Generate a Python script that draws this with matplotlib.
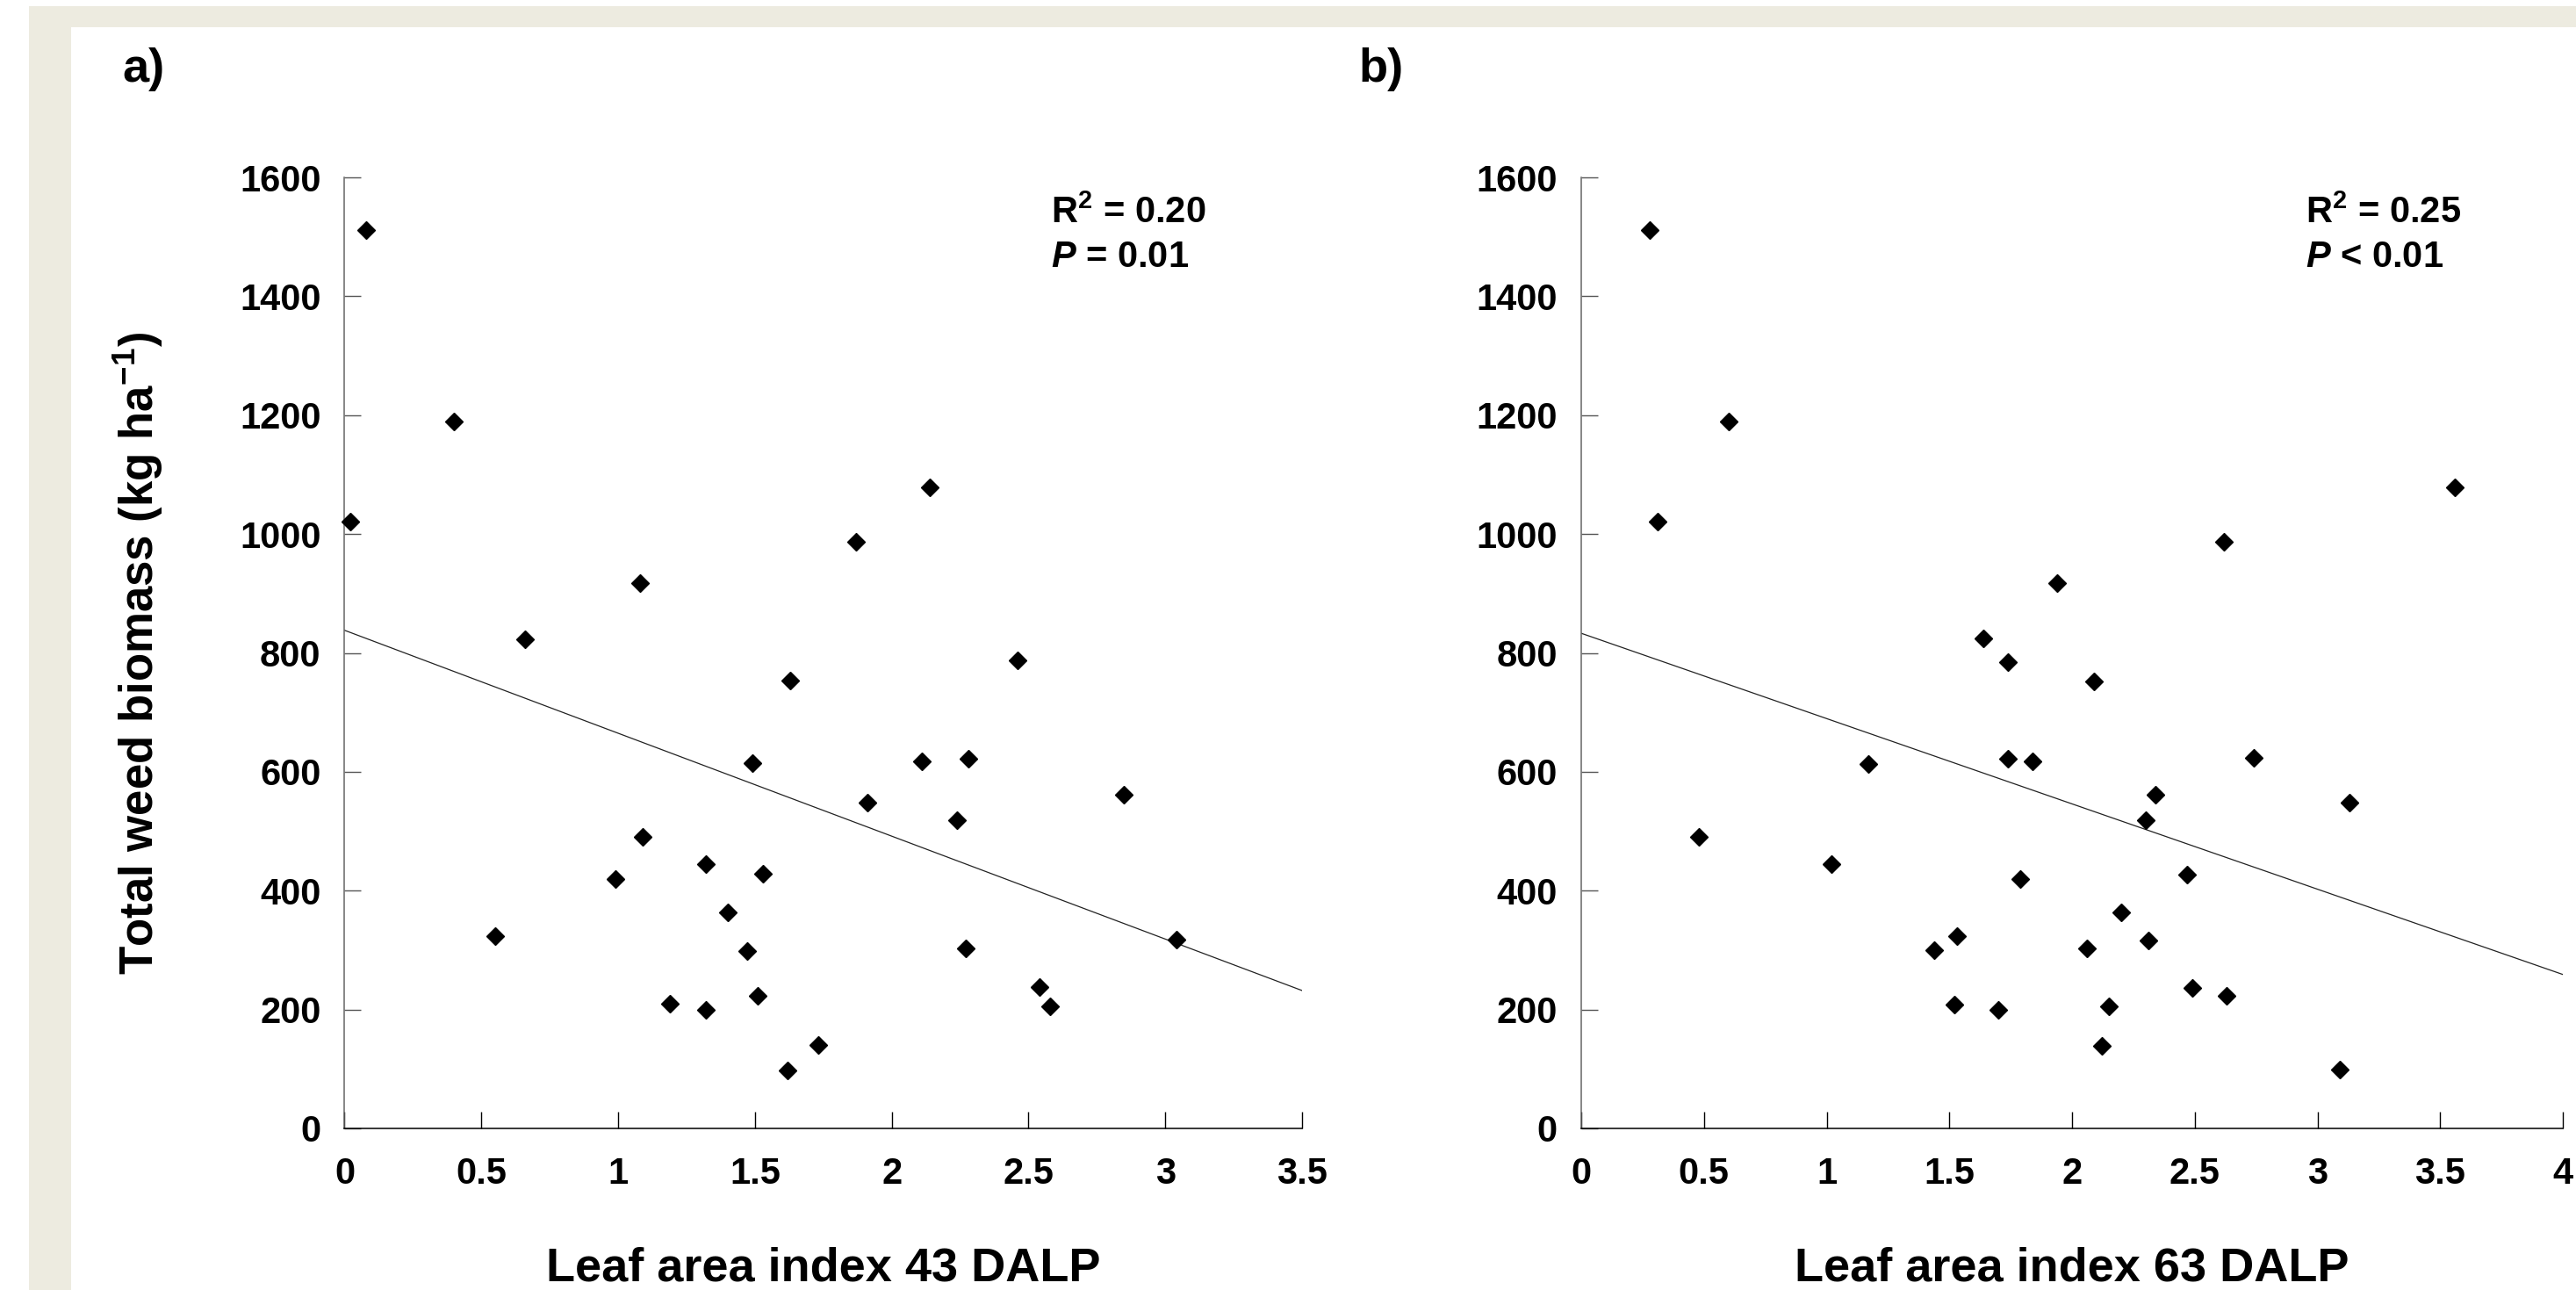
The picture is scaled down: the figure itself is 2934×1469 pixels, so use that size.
import numpy as np
import matplotlib
matplotlib.use("Agg")
import matplotlib.pyplot as plt
from matplotlib.patches import Rectangle

plt.rcParams['font.family'] = ['Liberation Sans', 'DejaVu Sans']
plt.rcParams['font.weight'] = 'bold'
plt.rcParams['mathtext.fontset'] = 'custom'
plt.rcParams['mathtext.rm'] = 'Liberation Sans:bold'
plt.rcParams['mathtext.bf'] = 'Liberation Sans:bold'
plt.rcParams['mathtext.it'] = 'Liberation Sans:italic:bold'

# panel a) leaf area index 43 DALP vs total weed biomass
lai_43 = [0.08, 0.40, 0.02, 2.14, 1.87, 1.08, 0.66, 1.63, 2.46, 1.49, 2.11, 2.28,
          1.91, 2.24, 2.85, 1.09, 0.99, 1.32, 1.53, 1.40, 0.55, 1.47, 2.27, 3.04,
          2.54, 2.58, 1.19, 1.32, 1.51, 1.73, 1.62]
biomass_43 = [1511, 1190, 1021, 1078, 987, 917, 823, 753, 787, 614, 618, 622,
              548, 519, 561, 491, 420, 445, 428, 363, 323, 298, 303, 318,
              238, 205, 210, 199, 223, 140, 98]

# panel b) leaf area index 63 DALP vs total weed biomass
lai_63 = [0.28, 0.60, 0.31, 3.56, 2.62, 1.94, 1.64, 1.74, 2.09, 1.17, 1.74, 1.84,
          2.74, 2.34, 2.30, 3.13, 0.48, 1.02, 1.79, 2.47, 2.20, 1.53, 1.44, 2.06,
          2.31, 2.49, 2.63, 1.52, 1.70, 2.15, 2.12, 3.09]
biomass_63 = [1511, 1190, 1021, 1078, 987, 917, 824, 785, 752, 613, 622, 618,
              624, 561, 519, 548, 491, 445, 419, 427, 363, 323, 300, 303,
              316, 237, 223, 209, 199, 205, 139, 99]

# fitted lines (x ends, y ends)
fit_43_x = [0, 3.5]
fit_43_y = [838, 232]
fit_63_x = [0, 4]
fit_63_y = [833, 259]

stats_43 = ['R$^{2}$ = 0.20', '$P$ = 0.01']
stats_63 = ['R$^{2}$ = 0.25', '$P$ < 0.01']

yticks = [0, 200, 400, 600, 800, 1000, 1200, 1400, 1600]
xticks_43 = [0, 0.5, 1, 1.5, 2, 2.5, 3, 3.5]
xlabels_43 = ['0', '0.5', '1', '1.5', '2', '2.5', '3', '3.5']
xticks_63 = [0, 0.5, 1, 1.5, 2, 2.5, 3, 3.5, 4]
xlabels_63 = ['0', '0.5', '1', '1.5', '2', '2.5', '3', '3.5', '4']

W, H = 2934, 1469
fig = plt.figure(figsize=(W / 100, H / 100), dpi=100)
fig.patch.set_facecolor('white')

# beige frame strips
beige = '#edebe0'
fig.patches.append(Rectangle((33 / W, 0), 48 / W, (H - 7) / H, transform=fig.transFigure,
                             facecolor=beige, edgecolor='none', zorder=0))
fig.patches.append(Rectangle((33 / W, (H - 31) / H), (W - 33) / W, 24 / H,
                             transform=fig.transFigure, facecolor=beige,
                             edgecolor='none', zorder=0))

ax1 = fig.add_axes([392.5 / W, (H - 1285) / H, 1090.5 / W, 1083 / H])
ax2 = fig.add_axes([1801 / W, (H - 1285) / H, 1118 / W, 1083 / H])

panels = [
    (ax1, lai_43, biomass_43, fit_43_x, fit_43_y, stats_43, xticks_43, xlabels_43,
     3.5, 'Leaf area index 43 DALP'),
    (ax2, lai_63, biomass_63, fit_63_x, fit_63_y, stats_63, xticks_63, xlabels_63,
     4, 'Leaf area index 63 DALP'),
]

for ax, x, y, fx, fy, st, xt, xl, xmax, xlab in panels:
    ax.set_facecolor('none')
    ax.plot(fx, fy, color='#222222', linewidth=0.9, zorder=2)
    ax.plot(x, y, linestyle='none', marker='D', markersize=10,
            color='black', zorder=3, clip_on=False)
    ax.set_xlim(0, xmax)
    ax.set_ylim(0, 1600)
    for s in ['top', 'right']:
        ax.spines[s].set_visible(False)
    ax.spines['left'].set_color('#666666')
    ax.spines['left'].set_linewidth(1.1)
    ax.spines['bottom'].set_color('black')
    ax.spines['bottom'].set_linewidth(1.1)
    ax.set_xticks(xt)
    ax.set_xticklabels(xl)
    ax.set_yticks(yticks)
    ax.set_yticklabels([str(v) for v in yticks])
    ax.tick_params(axis='x', direction='in', length=13.7, width=1.0, color='black',
                   pad=23, labelsize=30)
    ax.tick_params(axis='y', direction='in', length=13.7, width=1.0, color='#555555',
                   pad=19.5, labelsize=30)
    for lab in ax.get_xticklabels() + ax.get_yticklabels():
        lab.set_fontweight('bold')
    ax.text(0.738, 0.952, st[0], transform=ax.transAxes, fontsize=30,
            fontweight='bold', ha='left', va='baseline')
    ax.text(0.738, 0.906, st[1], transform=ax.transAxes, fontsize=30,
            fontweight='bold', ha='left', va='baseline')
    ax.set_xlabel(xlab, fontsize=39, fontweight='bold', va='baseline')
    ax.xaxis.set_label_coords(0.5, -0.160)

ax1.set_ylabel('Total weed biomass (kg ha$^{-1}$)', fontsize=38, fontweight='bold',
               va='center')
ax1.yaxis.set_label_coords((158 - 392.5) / 1090.5, 0.5)

fig.text(139 / W, (H - 93) / H, 'a)', fontsize=39, fontweight='bold', va='baseline')
fig.text(1547.5 / W, (H - 93) / H, 'b)', fontsize=39, fontweight='bold', va='baseline')

fig.savefig('out.png', dpi=100)
